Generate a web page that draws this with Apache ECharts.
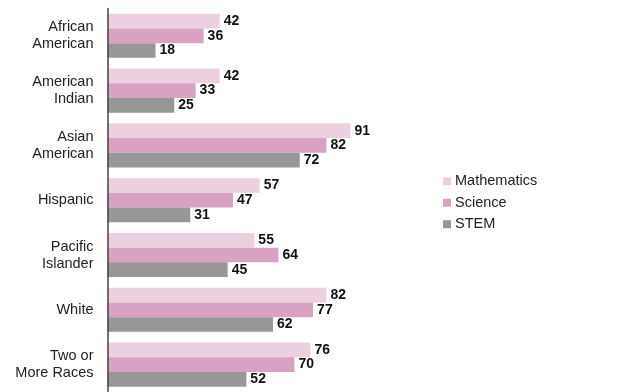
<!DOCTYPE html>
<html>
<head>
<meta charset="utf-8">
<script src="https://cdn.jsdelivr.net/npm/echarts@6/dist/echarts.min.js"></script>
<style>
  html, body { margin: 0; padding: 0; background: #fff; }
  #chart { width: 623px; height: 392px; }
</style>
</head>
<body>
<div id="chart"></div>
<script>
// categories, top to bottom
var categories = ["African\nAmerican", "American\nIndian", "Asian\nAmerican", "Hispanic", "Pacific\nIslander", "White", "Two or\nMore Races"];
var mathematics = [42, 42, 91, 57, 55, 82, 76];
var science = [36, 33, 82, 47, 64, 77, 70];
var stem = [18, 25, 72, 31, 45, 62, 52];

var chart = echarts.init(document.getElementById("chart"));

function barSeries(name, data, color) {
  return {
    name: name,
    type: "bar",
    data: data,
    barWidth: 14.7,
    barGap: "0%",
    itemStyle: { color: color },
    label: {
      show: true,
      position: "right",
      distance: 4,
      color: "#111",
      fontWeight: "bold",
      fontSize: 14,
      fontFamily: "Liberation Sans"
    }
  };
}

var option = {
  animation: false,
  textStyle: { fontFamily: "Liberation Sans" },
  grid: { left: 107.5, top: 8.4, width: 267, height: 387.3 },
  xAxis: {
    type: "value",
    min: 0,
    max: 100,
    show: false
  },
  yAxis: {
    type: "category",
    data: categories,
    inverse: true,
    z: 10,
    axisLine: { lineStyle: { color: "#444", width: 1.5 } },
    axisTick: { show: false },
    axisLabel: {
      margin: 14,
      formatter: function (v) {
        // right-align every line of the label
        return v.split("\n").map(function (s) { return "{r|" + s + "}"; }).join("\n");
      },
      rich: {
        r: {
          color: "#222",
          fontSize: 14.5,
          lineHeight: 17,
          align: "right",
          fontFamily: "Liberation Sans"
        }
      }
    }
  },
  legend: {
    orient: "vertical",
    left: 438,
    top: 168,
    itemWidth: 8,
    itemHeight: 8,
    itemGap: 5,
    icon: "rect",
    textStyle: { color: "#222", fontSize: 14.5, lineHeight: 16.5, padding: [0, 0, 0, -1] },
    data: ["Mathematics", "Science", "STEM"]
  },
  series: [
    barSeries("Mathematics", mathematics, "#ecd0e0"),
    barSeries("Science", science, "#d9a2c2"),
    barSeries("STEM", stem, "#979798")
  ]
};

chart.setOption(option);
</script>
</body>
</html>
